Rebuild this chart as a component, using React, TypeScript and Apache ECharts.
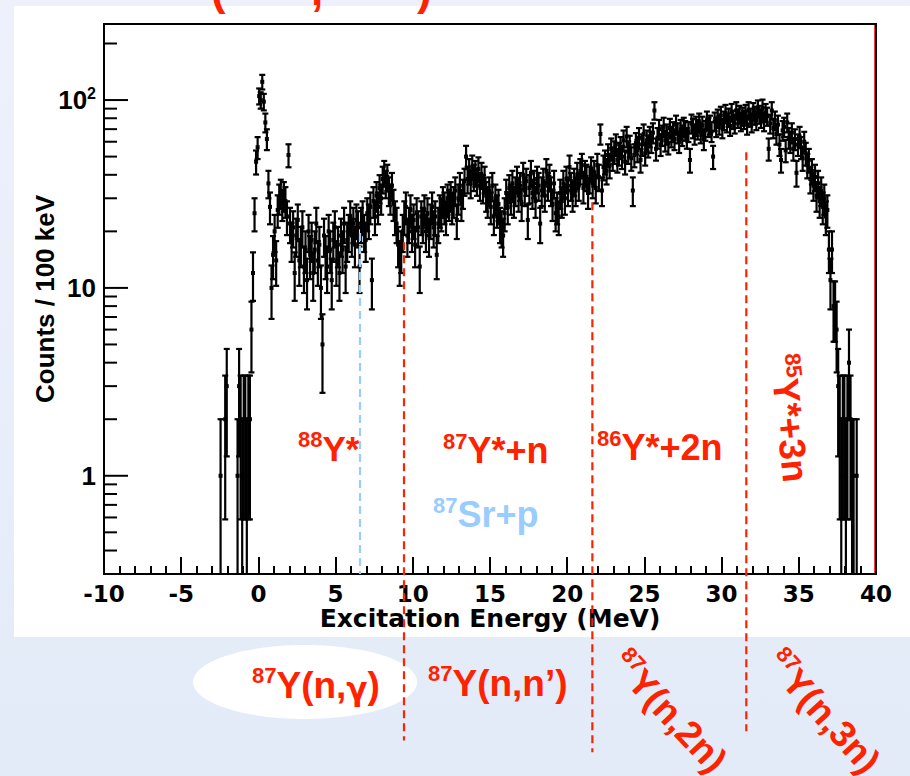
import React, { useEffect, useRef } from 'react';
import * as echarts from 'echarts';

// ---------------- data ----------------
// histogram binning (MeV): centre of first drawn bin and bin width (100 keV)
const BIN_START = -2.55;
const BIN_WIDTH = 0.1;

// counts per 100 keV bin (one row = 1 MeV)
const counts: number[] = [
  // -2.55 .. -1.65
  0, 1, 0, 0, 2, 3, 0, 0, 0, 0,
  // -1.55 .. -0.65
  0, 0, 1, 3, 2, 1, 2, 2, 1, 2,
  // -0.55 .. 0.35
  2, 6, 12, 25, 47, 56, 105, 100, 125, 98,
  // 0.45 .. 1.35
  76, 62, 36, 27, 10, 15, 20, 14, 26, 30,
  // 1.45 .. 2.35
  32, 28, 31, 29, 24, 51, 22, 18, 21, 12,
  // 2.45 .. 3.35
  19, 23, 14, 17, 21, 13, 16, 11, 20, 15,
  // 3.45 .. 4.35
  18, 12, 16, 22, 14, 17, 10, 5, 19, 15,
  // 4.45 .. 5.35
  13, 20, 16, 11, 18, 21, 14, 17, 12, 19,
  // 5.45 .. 6.35
  16, 22, 13, 18, 20, 24, 19, 22, 17, 23,
  // 6.45 .. 7.35
  21, 13, 22, 24, 20, 18, 25, 23, 27, 11,
  // 7.45 .. 8.35
  29, 24, 31, 27, 34, 30, 38, 41, 36, 39,
  // 8.45 .. 9.35
  33, 30, 35, 28, 24, 22, 17, 14, 16, 20,
  // 9.45 .. 10.35
  24, 27, 19, 22, 26, 20, 23, 17, 25, 21,
  // 10.45 .. 11.35
  13, 24, 22, 26, 20, 25, 19, 23, 27, 21,
  // 11.45 .. 12.35
  24, 15, 22, 26, 25, 29, 27, 24, 30, 28,
  // 12.45 .. 13.35
  31, 27, 29, 33, 23, 30, 35, 28, 32, 37,
  // 13.45 .. 14.35
  50, 38, 42, 36, 44, 39, 41, 37, 43, 35,
  // 14.45 .. 15.35
  40, 34, 38, 31, 29, 33, 27, 35, 24, 30,
  // 15.45 .. 16.35
  26, 28, 22, 21, 19, 25, 32, 27, 34, 30,
  // 16.45 .. 17.35
  36, 29, 33, 38, 31, 35, 28, 40, 33, 37,
  // 17.45 .. 18.35
  23, 34, 41, 32, 36, 29, 38, 35, 22, 33,
  // 18.45 .. 19.35
  37, 31, 42, 35, 39, 33, 28, 36, 25, 27,
  // 19.45 .. 20.35
  24, 32, 29, 36, 30, 38, 33, 44, 35, 31,
  // 20.45 .. 21.35
  37, 33, 40, 35, 42, 45, 34, 41, 39, 32,
  // 21.45 .. 22.35
  38, 43, 36, 41, 34, 45, 39, 66, 33, 44,
  // 22.45 .. 23.35
  47, 42, 51, 45, 55, 49, 53, 58, 48, 52,
  // 23.45 .. 24.35
  56, 50, 61, 47, 64, 53, 57, 49, 33, 51,
  // 24.45 .. 25.35
  59, 54, 63, 48, 58, 66, 52, 61, 57, 64,
  // 25.45 .. 26.35
  60, 67, 88, 55, 63, 70, 58, 65, 72, 61,
  // 26.45 .. 27.35
  66, 59, 71, 64, 68, 62, 74, 67, 60, 70,
  // 27.45 .. 28.35
  65, 72, 69, 63, 68, 48, 75, 71, 66, 73,
  // 28.45 .. 29.35
  70, 76, 67, 73, 62, 69, 78, 72, 74, 68,
  // 29.45 .. 30.35
  50, 77, 72, 80, 74, 83, 71, 78, 85, 76,
  // 30.45 .. 31.35
  81, 73, 86, 79, 75, 88, 80, 84, 77, 82,
  // 31.45 .. 32.35
  79, 85, 74, 88, 81, 76, 87, 83, 78, 90,
  // 32.45 .. 33.35
  84, 80, 91, 77, 86, 82, 55, 75, 88, 71,
  // 33.45 .. 34.35
  78, 66, 74, 58, 48, 69, 72, 54, 76, 63,
  // 34.45 .. 35.35
  60, 67, 55, 62, 41, 58, 64, 56, 49, 60,
  // 35.45 .. 36.35
  52, 45, 48, 38, 42, 35, 39, 31, 36, 29,
  // 36.45 .. 37.35
  33, 27, 30, 24, 26, 16, 11, 16, 8, 8,
  // 37.45 .. 38.35
  6, 3, 2, 1, 2, 2, 1, 2, 4, 2,
  // 38.45 .. 38.85
  1, 1, 0, 1, 0,
];

// axis ranges and tick values
const X_MIN = -10;
const X_MAX = 40;
const X_STEP = 5;
const Y_MIN = 0.3;
const Y_MAX = 254;
const yMajorTicks = [1, 10, 100];
const yMinorTicks = [0.4, 0.5, 0.6, 0.7, 0.8, 0.9, 2, 3, 4, 5, 6, 7, 8, 9, 20, 30, 40, 50, 60, 70, 80, 90, 200];

// reaction-channel boundaries (MeV) and the extent of each dashed marker (counts)
const boundaryEnergy = [6.58, 9.43, 21.63, 31.6];
const boundaryTop = [19.6, 17.5, 28.6, 52.8];
const boundaryBottom = [0.3, 0.039, 0.0337, 0.0436];
const boundaryKind = ['p', 'n', 'n', 'n'];

// ---------------- styling ----------------
const RED = '#ff2200';
const BLUE = '#99ccff';
const ARIAL = "'Liberation Sans', Arial, Helvetica, sans-serif";
const WIDE = "'DejaVu Sans', 'Liberation Sans', sans-serif";

const binCentres = counts.map((_, i) => +(BIN_START + i * BIN_WIDTH).toFixed(2));
const histData = counts
  .map((c, i) => [binCentres[i], c])
  .filter((d) => d[1] > 0);

const tickData = [
  ...yMajorTicks.map((v) => [X_MIN, v, 1]),
  ...yMinorTicks.map((v) => [X_MIN, v, 0]),
];

const boundaryData = boundaryEnergy.map((e, i) => [e, boundaryTop[i], boundaryBottom[i], boundaryKind[i] === 'p' ? 1 : 0]);

// main text may contain γ, drawn with a font that has a true Greek gamma glyph
function richLabel(sup: string, main: string, color: string, supSize: number, mainSize: number) {
  const parts = main.split('γ');
  const body = parts.map((p) => (p ? `{m|${p}}` : '')).join('{g|γ}');
  return {
    text: `{s|${sup}}${body}`,
    rich: {
      s: { fontSize: supSize, fontWeight: 'bold', fontFamily: ARIAL, fill: color, verticalAlign: 'top', lineHeight: mainSize + 5 },
      m: { fontSize: mainSize, fontWeight: 'bold', fontFamily: ARIAL, fill: color, lineHeight: mainSize + 5 },
      g: { fontSize: mainSize - 6, fontWeight: 'bold', fontFamily: WIDE, fill: color, lineHeight: mainSize + 5, padding: [8, 0, 0, 0] },
    },
    fill: color,
    fontSize: mainSize,
    fontWeight: 'bold',
    fontFamily: ARIAL,
  };
}

function textEl(x: number, y: number, sup: string, main: string, color: string, opts: any = {}) {
  const st: any = richLabel(sup, main, color, opts.supSize || 22, opts.mainSize || 36);
  st.x = 0;
  st.y = 0;
  st.align = opts.align || 'left';
  st.verticalAlign = opts.verticalAlign || 'top';
  return { type: 'text', x, y, rotation: opts.rotation || 0, z: 50, style: st, silent: true };
}

const deg = Math.PI / 180;

const option: any = {
  animation: false,
  backgroundColor: {
    type: 'linear', x: 0, y: 0, x2: 0, y2: 1,
    colorStops: [
      { offset: 0, color: '#eef1fc' },
      { offset: 1, color: '#e3ebf8' },
    ],
  },
  grid: {
    left: 104, top: 24, right: 34, bottom: 202,
    show: true, borderColor: '#000', borderWidth: 2, backgroundColor: '#fff',
    containLabel: false, outerBoundsMode: 'none',
  },
  xAxis: {
    type: 'value', min: X_MIN, max: X_MAX, interval: X_STEP,
    axisLine: { show: true, onZero: false, lineStyle: { color: '#000', width: 2 } },
    axisTick: { show: true, inside: true, length: 17, lineStyle: { color: '#000', width: 2 } },
    minorTick: { show: true, splitNumber: 5, length: 8, lineStyle: { color: '#000', width: 2 } },
    splitLine: { show: false },
    axisLabel: {
      color: '#000', fontFamily: WIDE, fontWeight: 'bold', fontSize: 23, margin: 8,
      hideOverlap: false, showMinLabel: true, showMaxLabel: true,
    },
    name: 'Excitation Energy (MeV)', nameLocation: 'middle', nameGap: 32, nameMoveOverlap: false,
    nameTextStyle: { color: '#000', fontFamily: WIDE, fontWeight: 'bold', fontSize: 25 },
  },
  yAxis: {
    type: 'log', logBase: 10, min: Y_MIN, max: Y_MAX,
    axisLine: { show: true, onZero: false, lineStyle: { color: '#000', width: 2 } },
    axisTick: { show: false },
    minorTick: { show: false },
    splitLine: { show: false },
    axisLabel: {
      color: '#000', fontFamily: ARIAL, fontWeight: 'bold', fontSize: 26, margin: 8,
      hideOverlap: false, showMinLabel: true, showMaxLabel: true,
      formatter: (v: number) => {
        const l = Math.log10(v);
        const r = Math.round(l);
        if (Math.abs(l - r) > 1e-6) return '';
        if (r === 0) return '1';
        if (r === 1) return '10';
        return `{b|10}{s|${r}}`;
      },
      rich: {
        b: { color: '#000', fontFamily: ARIAL, fontWeight: 'bold', fontSize: 26, lineHeight: 30 },
        s: { color: '#000', fontFamily: ARIAL, fontWeight: 'bold', fontSize: 16, lineHeight: 30, verticalAlign: 'top' },
      },
    },
    name: 'Counts / 100 keV', nameLocation: 'middle', nameGap: 46, nameMoveOverlap: false,
    nameTextStyle: { color: '#000', fontFamily: ARIAL, fontWeight: 'bold', fontSize: 26 },
  },
  series: [
    {
      type: 'custom',
      name: 'spectrum',
      silent: true,
      z: 3,
      data: histData,
      renderItem: (_p: any, api: any) => {
        const e = api.value(0);
        const n = api.value(1);
        const err = Math.sqrt(n);
        const hi = Math.min(n + err, Y_MAX);
        const lo = n - err;
        const clipped = lo <= Y_MIN;
        const pTop = api.coord([e, hi]);
        const pMid = api.coord([e, n]);
        const pBot = api.coord([e, clipped ? Y_MIN : lo]);
        const x = pMid[0];
        const st = { stroke: '#000', lineWidth: 2.2 };
        const children: any[] = [
          { type: 'line', shape: { x1: x, y1: pTop[1], x2: x, y2: pBot[1] }, style: st },
          { type: 'line', shape: { x1: x - 3, y1: pTop[1], x2: x + 3, y2: pTop[1] }, style: st },
          { type: 'rect', shape: { x: x - 2, y: pMid[1] - 2, width: 4, height: 4 }, style: { fill: '#000' } },
        ];
        if (!clipped) {
          children.push({ type: 'line', shape: { x1: x - 3, y1: pBot[1], x2: x + 3, y2: pBot[1] }, style: st });
        }
        return { type: 'group', children };
      },
    },
    {
      type: 'custom',
      name: 'yticks',
      silent: true,
      z: 4,
      data: tickData,
      renderItem: (_p: any, api: any) => {
        const p = api.coord([api.value(0), api.value(1)]);
        const len = api.value(2) ? 24 : 13;
        return {
          type: 'line',
          shape: { x1: p[0], y1: p[1], x2: p[0] + len, y2: p[1] },
          style: { stroke: '#000', lineWidth: 2 },
        };
      },
    },
    {
      type: 'custom',
      name: 'boundaries',
      silent: true,
      clip: false,
      z: 6,
      data: boundaryData,
      renderItem: (_p: any, api: any) => {
        const e = api.value(0);
        const a = api.coord([e, api.value(1)]);
        const b = api.coord([e, api.value(2)]);
        const isP = api.value(3) === 1;
        return {
          type: 'line',
          shape: { x1: a[0], y1: a[1], x2: b[0], y2: b[1] },
          style: { stroke: isP ? BLUE : RED, lineWidth: 2.2, lineDash: [8, 5] },
        };
      },
    },
  ],
  graphic: {
    elements: [
      { type: 'rect', z: -10, silent: true, shape: { x: 14, y: 6, width: 896, height: 631 }, style: { fill: '#ffffff' } },
      { type: 'ellipse', z: -5, silent: true, shape: { cx: 305, cy: 682, rx: 112, ry: 37 }, style: { fill: '#ffffff' } },
      { type: 'line', z: 10, silent: true, shape: { x1: 874.5, y1: 25, x2: 874.5, y2: 573 }, style: { stroke: '#ff3a3a', lineWidth: 1 } },
      // clipped title at top of slide
      { type: 'text', z: 50, silent: true, x: 211, y: -11, style: { text: '(', fill: RED, fontSize: 44, fontWeight: 'bold', fontFamily: ARIAL, verticalAlign: 'middle' } },
      { type: 'text', z: 50, silent: true, x: 311, y: -11, style: { text: ',', fill: RED, fontSize: 44, fontWeight: 'bold', fontFamily: ARIAL, verticalAlign: 'middle' } },
      { type: 'text', z: 50, silent: true, x: 417, y: -11, style: { text: ')', fill: RED, fontSize: 44, fontWeight: 'bold', fontFamily: ARIAL, verticalAlign: 'middle' } },
      // channel labels in the plot
      textEl(298, 428, '88', 'Y*', RED, { mainSize: 35 }),
      textEl(443, 430, '87', 'Y*+n', RED),
      textEl(597, 427, '86', 'Y*+2n', RED),
      textEl(433, 494, '87', 'Sr+p', BLUE),
      textEl(789, 418, '85', 'Y*+3n', RED, { mainSize: 37, align: 'center', verticalAlign: 'middle', rotation: -84 * deg }),
      // neutron-reaction labels below
      textEl(252, 664, '87', 'Y(n,γ)', RED, { mainSize: 37 }),
      textEl(428, 662, '87', 'Y(n,n’)', RED, { mainSize: 37 }),
      textEl(669, 712, '87', 'Y(n,2n)', RED, { mainSize: 37, align: 'center', verticalAlign: 'middle', rotation: -47 * deg }),
      textEl(823, 712, '87', 'Y(n,3n)', RED, { mainSize: 37, align: 'center', verticalAlign: 'middle', rotation: -48 * deg }),
    ],
  },
};

export default function App() {
  const ref = useRef<HTMLDivElement>(null);
  useEffect(() => {
    document.body.style.margin = '0';
    const chart = echarts.init(ref.current!, null, { renderer: 'svg' });
    chart.setOption(option);
    return () => chart.dispose();
  }, []);
  return <div ref={ref} style={{ width: 910, height: 776 }} />;
}
